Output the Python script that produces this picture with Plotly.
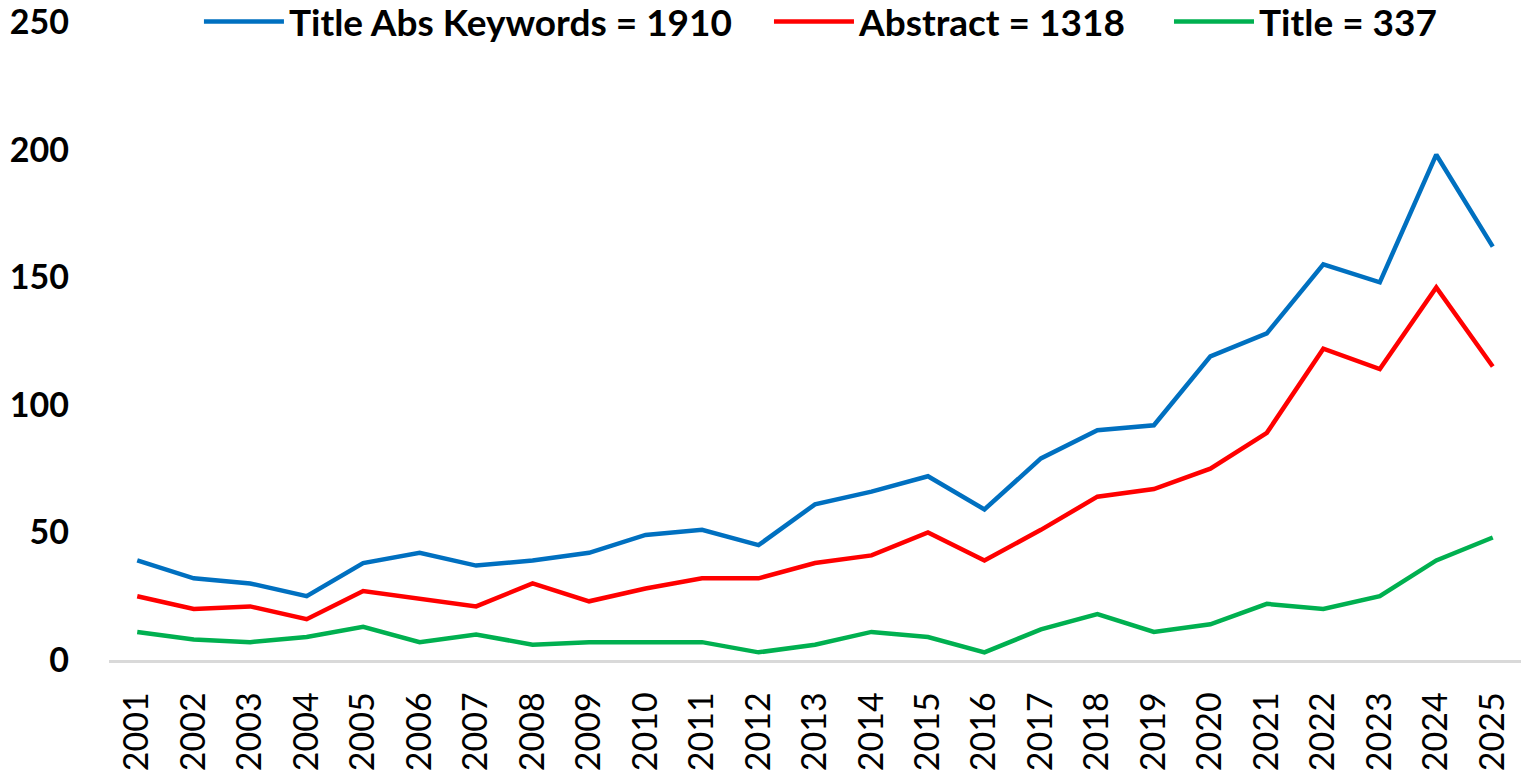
import plotly.graph_objects as go

years = [str(y) for y in range(2001, 2026)]
title_abs_kw = [39, 32, 30, 25, 38, 42, 37, 39, 42, 49, 51, 45, 61, 66, 72, 59, 79, 90, 92, 119, 128, 155, 148, 198, 162]
abstract = [25, 20, 21, 16, 27, 24, 21, 30, 23, 28, 32, 32, 38, 41, 50, 39, 51, 64, 67, 75, 89, 122, 114, 146, 115]
title = [11, 8, 7, 9, 13, 7, 10, 6, 7, 7, 7, 3, 6, 11, 9, 3, 12, 18, 11, 14, 22, 20, 25, 39, 48]

series_names = ["Title Abs Keywords = 1910", "Abstract = 1318", "Title = 337"]
series_values = [title_abs_kw, abstract, title]
series_colors = ["#0070C0", "#FF0000", "#00B050"]
y_ticks = [0, 50, 100, 150, 200, 250]

FONT = "Lato"
legend_ids = ["legend", "legend2", "legend3"]
legend_x = [0.0637, 0.4674, 0.7507]

fig = go.Figure()
for name, vals, col, lid in zip(series_names, series_values, series_colors, legend_ids):
    fig.add_trace(go.Scatter(x=years, y=vals, mode="lines", name=name, legend=lid,
                             line=dict(color=col, width=4.5)))

legend_style = dict(orientation="h", xanchor="left", y=1.0, yanchor="middle",
                    font=dict(family=FONT, size=37, weight="bold", color="black"),
                    itemwidth=80, bgcolor="rgba(0,0,0,0)")

layout_legends = {lid: dict(x=lx, **legend_style) for lid, lx in zip(legend_ids, legend_x)}

fig.update_layout(
    width=1524, height=777,
    margin=dict(l=109, r=3, t=22, b=117, autoexpand=False),
    plot_bgcolor="white", paper_bgcolor="white",
    font=dict(family=FONT, color="black"),
    showlegend=True,
    xaxis=dict(type="category", range=[-0.5, 24.5], showgrid=False, zeroline=False,
               showline=True, linecolor="#D9D9D9", linewidth=2.5, ticks="",
               tickangle=-90, tickfont=dict(family=FONT, size=34, color="black"),
               ticklabelstandoff=16, automargin=False, ticklabeloverflow="allow"),
    yaxis=dict(range=[0, 250], tickvals=y_ticks, showgrid=False, zeroline=False,
               showline=False, ticks="", automargin=False, ticklabeloverflow="allow",
               tickfont=dict(family=FONT, size=34, weight="bold", color="black"),
               ticklabelstandoff=39),
    **layout_legends,
)

fig.write_html("out.html", config={"displayModeBar": False},
               post_script="document.body.style.margin='0';document.body.style.overflow='hidden';")
